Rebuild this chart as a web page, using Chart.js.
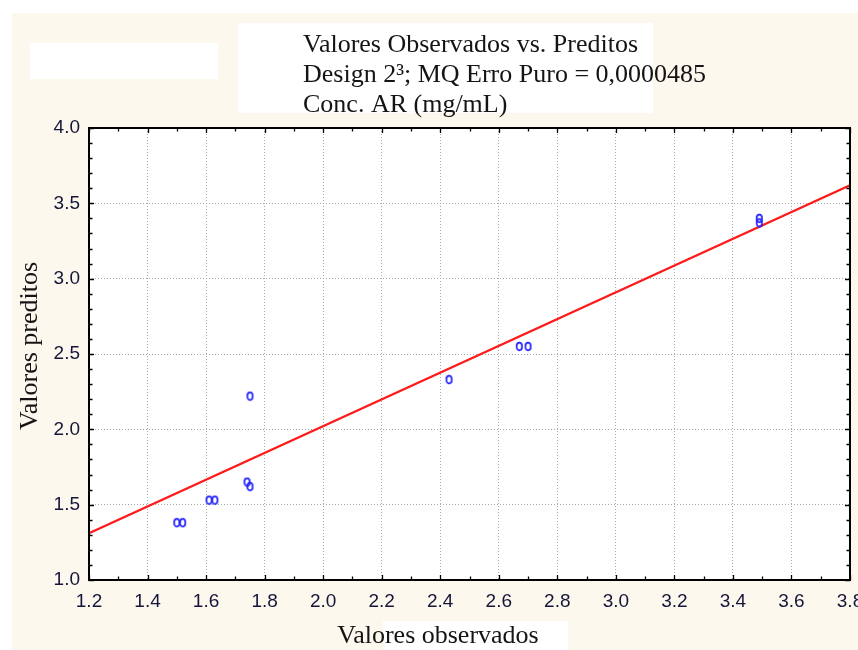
<!DOCTYPE html>
<html>
<head>
<meta charset="utf-8">
<title>Valores Observados vs. Preditos</title>
<script src="https://cdn.jsdelivr.net/npm/chart.js@4/dist/chart.umd.min.js"></script>
<style>
    html, body { margin: 0; padding: 0; background: #ffffff; }
    #chart { display: block; }
</style>
</head>
<body>
<canvas id="chart" width="858" height="650"></canvas>
<script>
// Observed vs predicted values
const observados = [1.50, 1.52, 1.61, 1.63, 1.74, 1.75, 1.75, 2.43, 2.67, 2.70, 3.49, 3.49];
const preditos = [1.38, 1.38, 1.53, 1.53, 1.65, 1.62, 2.22, 2.33, 2.55, 2.55, 3.40, 3.37];

// Fitted line end points
const retaX = [1.2, 3.8];
const retaY = [1.31, 3.62];

// Axis ticks
const xTicks = [1.2, 1.4, 1.6, 1.8, 2.0, 2.2, 2.4, 2.6, 2.8, 3.0, 3.2, 3.4, 3.6, 3.8];
const yTicks = [1.0, 1.5, 2.0, 2.5, 3.0, 3.5, 4.0];

const titleLines = [
    'Valores Observados vs. Preditos',
    'Design 2³; MQ Erro Puro = 0,0000485',
    'Conc. AR (mg/mL)'
];
const xTitle = 'Valores observados';
const yTitle = 'Valores preditos';

const serif = '"Liberation Serif", "Times New Roman", serif';
const sans = '"Liberation Sans", Arial, sans-serif';

// ============================================
// MARKER (small open ellipse)
// ============================================

function makeMarker() {
    const c = document.createElement('canvas');
    c.width = 9;
    c.height = 11;
    const g = c.getContext('2d');
    g.strokeStyle = '#1f1fff';
    g.lineWidth = 1.7;
    g.beginPath();
    g.ellipse(4.5, 5.5, 2.7, 3.8, 0, 0, Math.PI * 2);
    g.stroke();
    return c;
}

// ============================================
// PLUGINS
// ============================================

const backdrop = {
    id: 'backdrop',
    beforeDraw(chart) {
        const ctx = chart.ctx;
        const a = chart.chartArea;
        ctx.save();
        ctx.fillStyle = '#ffffff';
        ctx.fillRect(0, 0, chart.width, chart.height);
        ctx.fillStyle = '#fdf8ee';
        ctx.fillRect(12, 13, chart.width - 12, chart.height - 13);
        ctx.fillStyle = '#ffffff';
        ctx.fillRect(30, 43, 188, 36);
        ctx.fillRect(238, 23, 415, 90);
        ctx.fillRect(383, 621, 185, 29);
        ctx.fillRect(a.left, a.top, a.right - a.left, a.bottom - a.top);
        ctx.restore();
    }
};

const frame = {
    id: 'frame',
    afterDatasetsDraw(chart) {
        const ctx = chart.ctx;
        const a = chart.chartArea;
        const xs = chart.scales.x;
        const ys = chart.scales.y;
        ctx.save();
        ctx.strokeStyle = '#000000';
        ctx.lineWidth = 1.3;
        ctx.beginPath();
        // inward ticks every 0.1
        for (let i = 12; i <= 38; i++) {
            const px = Math.round(xs.getPixelForValue(i / 10)) + 0.5;
            const len = i % 2 === 0 ? 5 : 3.5;
            ctx.moveTo(px, a.bottom);
            ctx.lineTo(px, a.bottom - len);
            ctx.moveTo(px, a.top);
            ctx.lineTo(px, a.top + len);
        }
        for (let i = 10; i <= 40; i++) {
            const py = Math.round(ys.getPixelForValue(i / 10)) + 0.5;
            const len = i % 5 === 0 ? 5 : 3.5;
            ctx.moveTo(a.left, py);
            ctx.lineTo(a.left + len, py);
            ctx.moveTo(a.right, py);
            ctx.lineTo(a.right - len, py);
        }
        ctx.stroke();
        ctx.lineWidth = 2;
        ctx.strokeRect(a.left, a.top, a.right - a.left, a.bottom - a.top);
        ctx.restore();
    }
};

const texts = {
    id: 'texts',
    afterDraw(chart) {
        const ctx = chart.ctx;
        ctx.save();
        ctx.fillStyle = '#141414';
        ctx.font = '26px ' + serif;
        ctx.textAlign = 'left';
        ctx.textBaseline = 'middle';
        const rows = [45, 75, 105];
        titleLines.forEach((t, i) => ctx.fillText(t, 303, rows[i]));

        ctx.textAlign = 'center';
        ctx.fillText(xTitle, 438, 636);

        ctx.translate(30, 346);
        ctx.rotate(-Math.PI / 2);
        ctx.fillText(yTitle, 0, 0);
        ctx.restore();
    }
};

// ============================================
// CHART
// ============================================

const gridColor = ticks => c => {
    const v = c.tick ? c.tick.value : null;
    if (v === ticks[0] || v === ticks[ticks.length - 1]) return 'rgba(0,0,0,0)';
    return '#a9a9a9';
};

new Chart(document.getElementById('chart'), {
    type: 'scatter',
    data: {
        datasets: [
            {
                label: 'Observados',
                data: observados.map((x, i) => ({ x: x, y: preditos[i] })),
                pointStyle: makeMarker(),
                pointRadius: 3,
                order: 1
            },
            {
                label: 'Reta',
                data: retaX.map((x, i) => ({ x: x, y: retaY[i] })),
                showLine: true,
                borderColor: '#ff1a1a',
                borderWidth: 2.2,
                pointRadius: 0,
                order: 2
            }
        ]
    },
    plugins: [backdrop, frame, texts],
    options: {
        responsive: false,
        animation: false,
        devicePixelRatio: 1,
        events: [],
        layout: {
            padding: { left: 0, top: 128, right: 8, bottom: 0 }
        },
        plugins: {
            legend: { display: false },
            tooltip: { enabled: false },
            title: { display: false }
        },
        scales: {
            x: {
                type: 'linear',
                min: 1.2,
                max: 3.8,
                afterBuildTicks: s => { s.ticks = xTicks.map(v => ({ value: v })); },
                afterFit: s => { s.height = 70; s.paddingLeft = 0; s.paddingRight = 0; },
                ticks: {
                    padding: 10,
                    maxRotation: 0,
                    autoSkip: false,
                    color: '#15153a',
                    font: { family: sans, size: 19 },
                    callback: v => v.toFixed(1)
                },
                grid: {
                    drawTicks: false,
                    lineWidth: 1,
                    color: gridColor(xTicks)
                },
                border: { display: false, dash: [1, 2] }
            },
            y: {
                type: 'linear',
                min: 1.0,
                max: 4.0,
                afterBuildTicks: s => { s.ticks = yTicks.map(v => ({ value: v })); },
                afterFit: s => { s.width = 89; s.paddingTop = 0; s.paddingBottom = 0; },
                ticks: {
                    padding: 9,
                    autoSkip: false,
                    color: '#15153a',
                    font: { family: sans, size: 19 },
                    callback: v => v.toFixed(1)
                },
                grid: {
                    drawTicks: false,
                    lineWidth: 1,
                    color: gridColor(yTicks)
                },
                border: { display: false, dash: [1, 2] }
            }
        }
    }
});
</script>
</body>
</html>
